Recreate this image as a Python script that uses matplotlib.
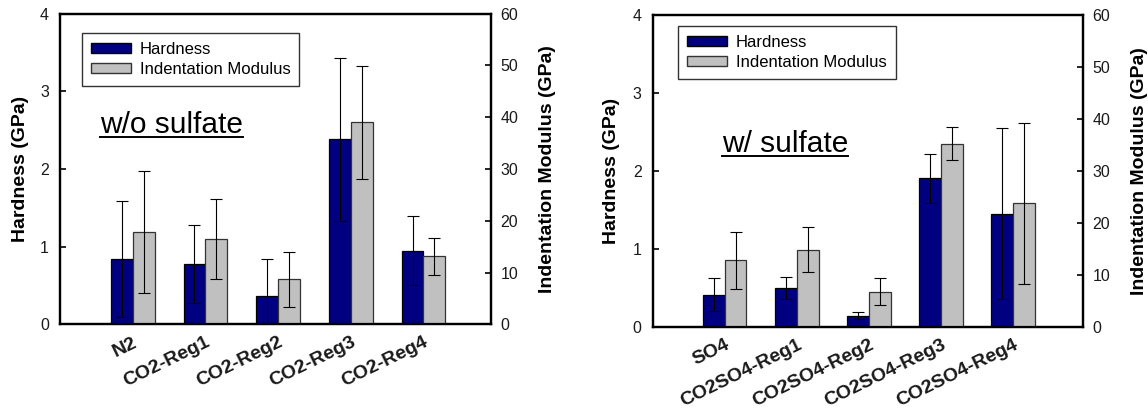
import matplotlib
matplotlib.use("Agg")
import matplotlib.pyplot as plt
from matplotlib.patches import Patch
from matplotlib.lines import Line2D
from matplotlib.transforms import ScaledTranslation
import numpy as np

plt.rcParams['font.family'] = ['Liberation Sans', 'DejaVu Sans']

# Samples without sulfate
cats_a = ["N2", "CO2-Reg1", "CO2-Reg2", "CO2-Reg3", "CO2-Reg4"]
hard_a = [0.84, 0.78, 0.37, 2.38, 0.95]          # GPa
hard_err_a = [0.75, 0.50, 0.47, 1.05, 0.44]
mod_a = [17.8, 16.4, 8.7, 39.0, 13.1]            # GPa
mod_err_a = [11.8, 7.7, 5.3, 10.9, 3.6]

# Samples with sulfate
cats_b = ["SO4", "CO2SO4-Reg1", "CO2SO4-Reg2", "CO2SO4-Reg3", "CO2SO4-Reg4"]
hard_b = [0.41, 0.50, 0.14, 1.90, 1.45]
hard_err_b = [0.21, 0.14, 0.043, 0.31, 1.10]
mod_b = [12.8, 14.8, 6.7, 35.2, 23.7]
mod_err_b = [5.5, 4.3, 2.6, 3.2, 15.5]

series_labels = ["Hardness", "Indentation Modulus"]
hard_ticks = [0, 1, 2, 3, 4]
mod_ticks = [0, 10, 20, 30, 40, 50, 60]

NAVY = "#000080"
GRAY = "#c0c0c0"
INK = "#1a1a1a"

fig = plt.figure(figsize=(11.48, 4.16), dpi=100)


def panel(rect, cats, hard, herr, mod, merr, xmax, note, note_xy,
          leg_anchor, ylab_x, y2lab_x):
    ax = fig.add_axes(rect)
    ax2 = ax.twinx()
    x = np.arange(1, len(cats) + 1)
    w = 0.3

    ax.bar(x - w / 2, hard, width=w, color=NAVY, edgecolor="black",
           linewidth=0.9, zorder=2)
    ax.errorbar(x - w / 2, hard, yerr=herr, fmt="none", ecolor="black",
                elinewidth=0.8, capsize=4, capthick=0.8, zorder=3)
    ax2.bar(x + w / 2, mod, width=w, color=GRAY, edgecolor="#333333",
            linewidth=0.9, zorder=2)
    ax2.errorbar(x + w / 2, mod, yerr=merr, fmt="none", ecolor="black",
                 elinewidth=0.8, capsize=4, capthick=0.8, zorder=3)

    ax.set_xlim(0, xmax)
    ax.set_ylim(0, 4)
    ax2.set_ylim(0, 60)
    ax.set_yticks(hard_ticks)
    ax2.set_yticks(mod_ticks)
    ax.set_xticks(x)
    ax.set_xticklabels(cats, rotation=26, ha="right", rotation_mode="anchor",
                       fontweight="bold", fontsize=14, color=INK)
    shift = ScaledTranslation(4 / 100, 0, fig.dpi_scale_trans)
    for lab in ax.get_xticklabels():
        lab.set_transform(lab.get_transform() + shift)
    ax.tick_params(axis="x", length=0, pad=7)
    ax.tick_params(axis="y", direction="in", length=4, width=1.2,
                   labelsize=11.5, pad=8, labelcolor=INK)
    ax2.tick_params(axis="y", direction="in", length=4, width=1.2,
                    labelsize=11.5, pad=7, labelcolor=INK)
    for a in (ax, ax2):
        for s in a.spines.values():
            s.set_linewidth(1.6)

    ax.set_ylabel("Hardness (GPa)", fontweight="bold", fontsize=14)
    ax.yaxis.set_label_coords(ylab_x, 0.5)
    ax2.set_ylabel("Indentation Modulus (GPa)", fontweight="bold",
                   fontsize=14)
    ax2.yaxis.set_label_coords(y2lab_x, 0.5)

    handles = [Patch(facecolor=NAVY, edgecolor="black", linewidth=1.0),
               Patch(facecolor=GRAY, edgecolor="#333333", linewidth=1.0)]
    leg = ax2.legend(handles, series_labels, loc="upper left",
                     bbox_to_anchor=leg_anchor, borderaxespad=0,
                     frameon=True, fancybox=False, framealpha=1,
                     edgecolor="#333333", fontsize=12, handlelength=2.4,
                     handleheight=0.55, handletextpad=0.5,
                     labelspacing=0.3, borderpad=0.55)
    leg.get_frame().set_linewidth(1.0)

    t = ax.text(note_xy[0], note_xy[1], note, transform=ax.transAxes,
                fontsize=21.5, ha="left", va="baseline", color="black")
    return ax, t


panels = [
    panel([0.0523, 0.2204, 0.3754, 0.7471], cats_a, hard_a, hard_err_a,
          mod_a, mod_err_a, 5.93, "w/o sulfate", (0.093, 0.616),
          (0.051, 0.937), -0.073, 1.112),
    panel([0.5686, 0.2147, 0.3748, 0.7500], cats_b, hard_b, hard_err_b,
          mod_b, mod_err_b, 5.97, "w/ sulfate", (0.161, 0.56),
          (0.059, 0.964), -0.075, 1.112),
]

# underline the annotation text of each panel
fig.canvas.draw()
renderer = fig.canvas.get_renderer()
for ax, t in panels:
    bb = t.get_window_extent(renderer)
    inv = ax.transAxes.inverted()
    (x0, _), (x1, _) = inv.transform([[bb.x0, bb.y0], [bb.x1, bb.y0]])
    ax_h = ax.get_window_extent(renderer).height
    y = t.get_position()[1] - 4.0 / ax_h
    ax.add_line(Line2D([x0, x1], [y, y], transform=ax.transAxes,
                       color="black", linewidth=1.4, clip_on=False))

fig.savefig("out.png", dpi=100)
